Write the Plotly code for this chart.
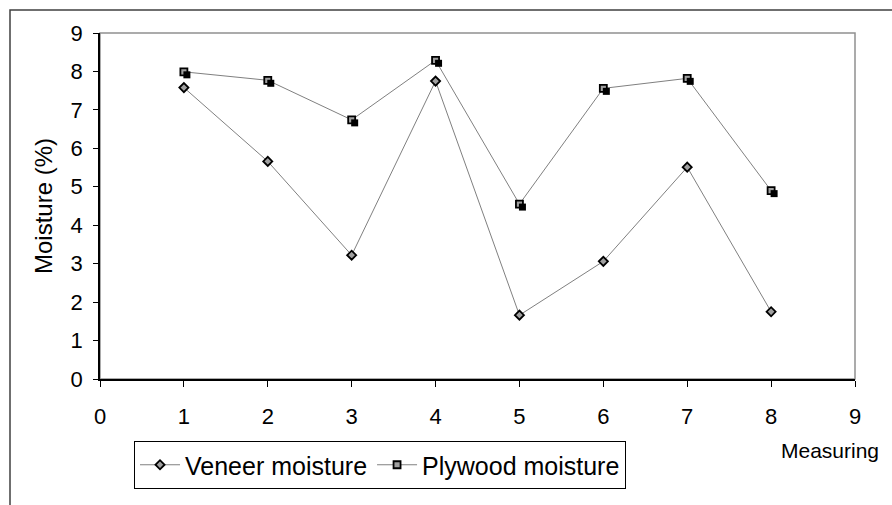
import plotly.graph_objects as go

measure = [1, 2, 3, 4, 5, 6, 7, 8]
veneer = [7.58, 5.66, 3.22, 7.75, 1.66, 3.06, 5.51, 1.75]
plywood = [7.99, 7.77, 6.74, 8.29, 4.55, 7.56, 7.82, 4.90]
ticks = list(range(0, 10))

L, R, T, B = 100, 37, 33, 126
W, H = 892, 505
pw, ph = W - L - R, H - T - B
dx = 3 * 9 / pw
dy = 3 * 9 / ph

fig = go.Figure()
# shadow squares for plywood markers (offset overlay axes)
fig.add_trace(go.Scatter(x=measure, y=plywood, mode="markers", xaxis="x2", yaxis="y2",
                         marker=dict(symbol="square", size=7, color="black"),
                         showlegend=False, hoverinfo="skip"))
fig.add_trace(go.Scatter(x=measure, y=veneer, mode="lines+markers", name="Veneer moisture",
                         line=dict(color="#808080", width=1),
                         marker=dict(symbol="diamond", size=7, color="#a0a0a0",
                                     line=dict(color="black", width=1.8))))
fig.add_trace(go.Scatter(x=measure, y=plywood, mode="lines+markers", name="Plywood moisture",
                         line=dict(color="#808080", width=1),
                         marker=dict(symbol="square", size=7, color="#a0a0a0",
                                     line=dict(color="black", width=1.8))))

fig.update_layout(
    width=W, height=H, margin=dict(l=L, r=R, t=T, b=B),
    paper_bgcolor="white", plot_bgcolor="white",
    font=dict(family="Liberation Sans, Arial, sans-serif", color="black", size=22),
    xaxis=dict(range=[0, 9], tickvals=ticks, showgrid=False, zeroline=False,
               showline=True, linecolor="black", linewidth=1.5, mirror=False,
               ticks="outside", ticklen=6, tickcolor="black", tickfont=dict(size=22),
               ticklabelstandoff=11),
    yaxis=dict(range=[0, 9], tickvals=ticks, showgrid=False, zeroline=False,
               showline=True, linecolor="black", linewidth=1.5,
               ticks="outside", ticklen=5, tickcolor="black", tickfont=dict(size=22),
               ticklabelstandoff=6),
    xaxis2=dict(range=[-dx, 9 - dx], overlaying="x", visible=False),
    yaxis2=dict(range=[dy, 9 + dy], overlaying="y", visible=False),
    legend=dict(orientation="h", x=(134 - L) / pw, xanchor="left",
                y=(H - B - 441) / ph, yanchor="top",
                bordercolor="black", borderwidth=1, bgcolor="white",
                font=dict(size=25), itemwidth=40),
    showlegend=True,
)
# plot-area gray top/right border
fig.add_shape(type="rect", xref="paper", yref="paper", x0=0, y0=0, x1=1, y1=1,
              line=dict(color="#909090", width=1.5), layer="below")
# outer chart frame
fig.add_shape(type="rect", xref="paper", yref="paper",
              x0=(10 - L) / pw, y0=-(H - B + 20) / ph, x1=(W + 20 - L) / pw, y1=(H - B - 10) / ph,
              line=dict(color="#404040", width=1.5))
fig.add_annotation(text="Moisture (%)", xref="paper", yref="paper",
                   x=(43 - L) / pw, y=(H - B - 206) / ph, showarrow=False, textangle=-90,
                   font=dict(size=24), xanchor="center", yanchor="middle")
fig.add_annotation(text="Measuring", xref="paper", yref="paper",
                   x=(830 - L) / pw, y=(H - B - 450) / ph, showarrow=False,
                   font=dict(size=21), xanchor="center", yanchor="middle")

fig.write_html("out.html")
